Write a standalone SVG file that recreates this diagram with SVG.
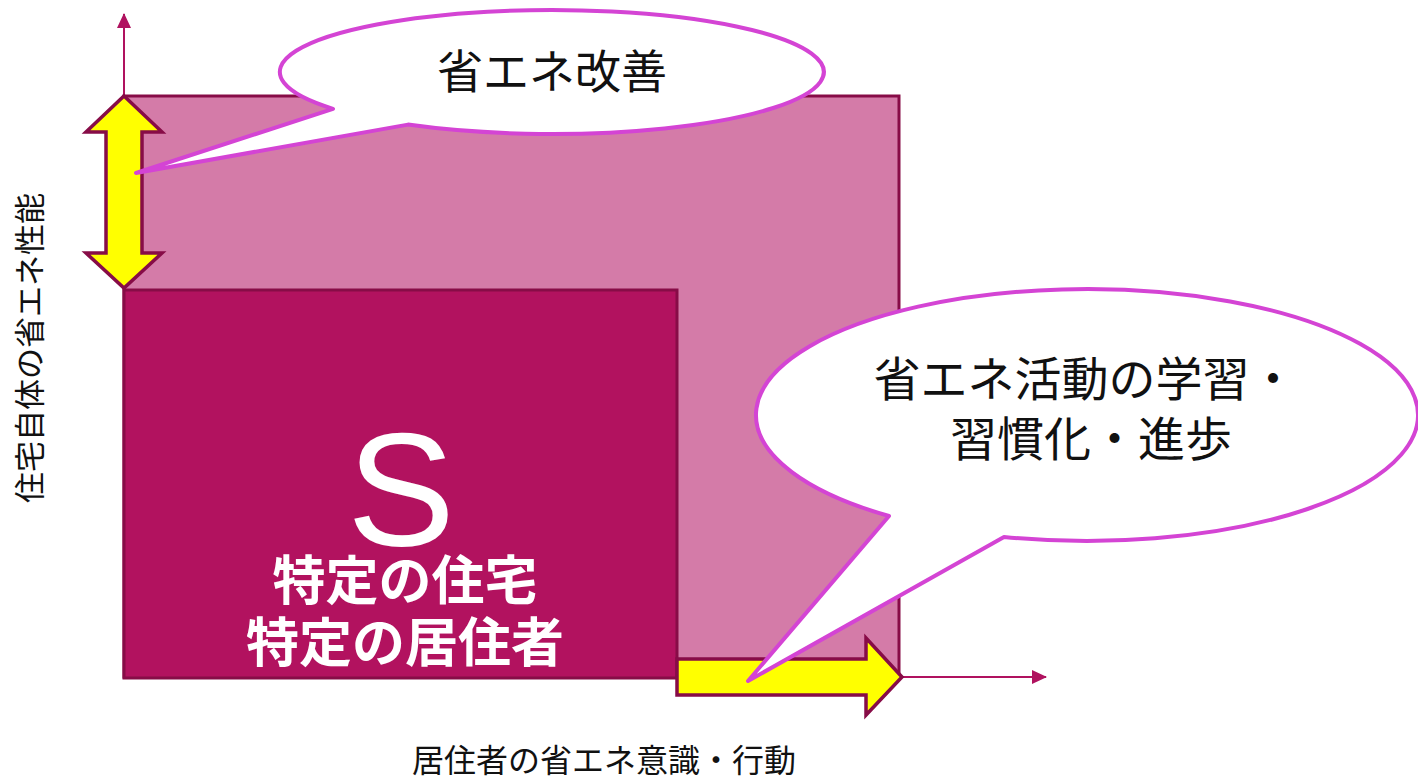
<svg xmlns="http://www.w3.org/2000/svg" width="1418" height="777" viewBox="0 0 1418 777">
<style>
.box{stroke:#870C47;stroke-width:3}
.yarrow{fill:#FFFF00;stroke:#870C47;stroke-width:3.5;stroke-linejoin:miter}
.bubble{fill:#FFFFFF;stroke:#D444D4;stroke-width:4;stroke-linejoin:round}
.axis{stroke:#B0125F;stroke-width:2;fill:none}
.jp{font-family:"Noto Sans CJK JP","Noto Sans",sans-serif}
.blk{fill:#111111}
.wht{fill:#FFFFFF}
</style>
<defs>
<marker id="ah" markerWidth="16" markerHeight="16" refX="14" refY="7" orient="auto" markerUnits="userSpaceOnUse">
<path d="M0,0 L15,7 L0,14 Z" fill="#B0125F"/>
</marker>
</defs>
<rect width="1418" height="777" fill="#FFFFFF"/>
<g id="connectors">
<line class="axis" x1="124" y1="678" x2="124" y2="14" marker-end="url(#ah)"/>
<line class="axis" x1="124" y1="677" x2="1046" y2="677" marker-end="url(#ah)"/>
</g>
<g id="house-improved">
<rect class="box" x="124" y="96" width="775" height="581" fill="#D47BA8"/>
</g>
<g id="house-specific">
<rect class="box" x="124" y="290" width="553" height="388" fill="#B2125F"/>
<text class="wht" x="401" y="545" font-family="'Liberation Sans',Arial,sans-serif" font-size="162" text-anchor="middle">S</text>
<text class="jp wht" x="405" y="600" font-size="53" font-weight="bold" text-anchor="middle">特定の住宅</text>
<text class="jp wht" x="405" y="662" font-size="53" font-weight="bold" text-anchor="middle">特定の居住者</text>
</g>
<g id="arrow-vertical">
<polygon class="yarrow" points="124,96 162,132 142,132 142,253 162,253 124,288 86,253 106,253 106,132 86,132"/>
</g>
<g id="arrow-horizontal">
<polygon class="yarrow" points="677,659 866,659 866,638 902,677 866,715 866,695 677,695"/>
</g>
<g id="bubble-improve">
<path class="bubble" d="M333,108.8 L136,173 L408,124.6 A272 62 0 1 0 333,108.8 Z"/>
<text class="jp blk" x="552" y="88" font-size="46" text-anchor="middle">省エネ改善</text>
</g>
<g id="bubble-learning">
<path class="bubble" d="M889,516 L748,681 L1004,537 A331 126 0 1 0 889,516 Z"/>
<text class="jp blk" x="1085" y="396" font-size="47" text-anchor="middle">省エネ活動の学習・</text>
<text class="jp blk" x="1091" y="456" font-size="47" text-anchor="middle">習慣化・進歩</text>
</g>
<g id="axis-labels">
<text class="jp blk" transform="translate(41,348) rotate(-90)" font-size="31" text-anchor="middle">住宅自体の省エネ性能</text>
<text class="jp blk" x="604" y="772" font-size="32" text-anchor="middle">居住者の省エネ意識・行動</text>
</g>
</svg>
